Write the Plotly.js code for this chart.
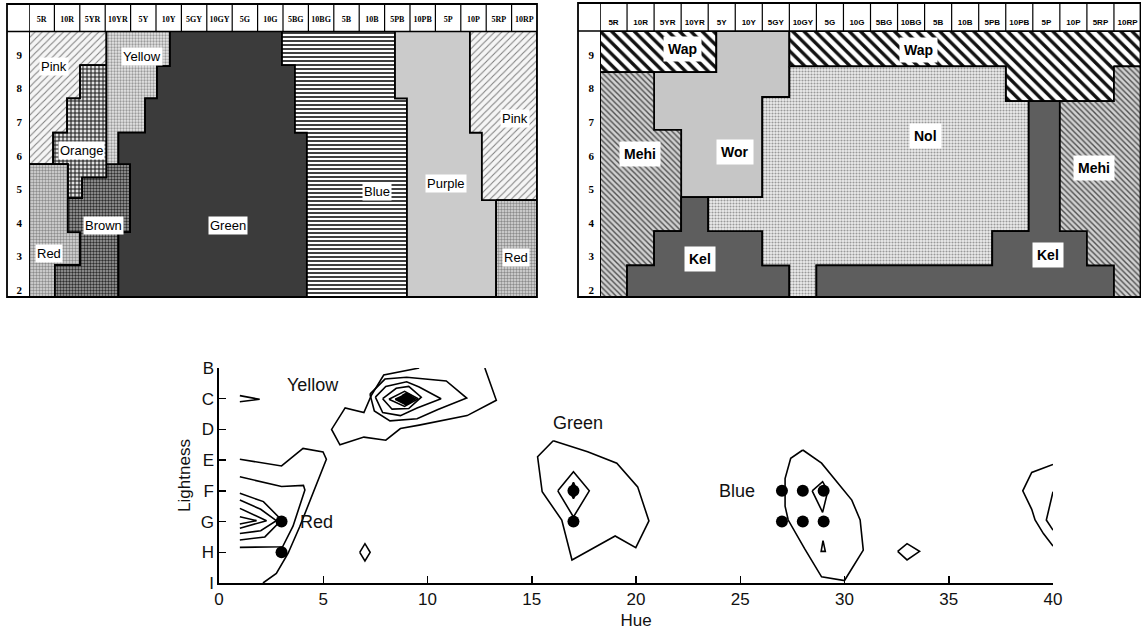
<!DOCTYPE html>
<html><head><meta charset="utf-8">
<script src="https://cdn.plot.ly/plotly-3.0.1.min.js"></script>
<style>html,body{margin:0;padding:0;background:#fff}#chart{width:1141px;height:630px}</style>
</head><body><div id="chart"></div>
<script>
// ================= DATA =================
const hueColumns = ['5R','10R','5YR','10YR','5Y','10Y','5GY','10GY','5G','10G','5BG','10BG','5B','10B','5PB','10PB','5P','10P','5RP','10RP'];
const valueRows = [2,3,4,5,6,7,8,9];
const TOP = 9.714, BOT = 1.798;   // value range shown in the two maps

// Panel A: English colour-term regions  [hue column, Munsell value]
const pinkLeft  = [[0,TOP],[3.05,TOP],[3.05,8.7],[2.01,8.7],[2.01,7.71],[1.5,7.71],[1.5,6.69],[0.95,6.69],[0.95,5.75],[0,5.75]];
const orange    = [[2.01,8.7],[3.05,8.7],[3.05,5.35],[2.09,5.35],[2.09,4.74],[1.53,4.74],[1.53,5.75],[0.95,5.75],[0.95,6.69],[1.5,6.69],[1.5,7.71],[2.01,7.71]];
const redLeft   = [[0,5.75],[1.53,5.75],[1.53,3.73],[2.01,3.73],[2.01,2.75],[1.02,2.75],[1.02,BOT],[0,BOT]];
const brown     = [[3.05,5.75],[3.98,5.75],[3.98,3.73],[3.52,3.73],[3.52,BOT],[1.02,BOT],[1.02,2.75],[2.01,2.75],[2.01,3.73],[1.53,3.73],[1.53,4.74],[2.09,4.74],[2.09,5.35],[3.05,5.35]];
const yellow    = [[3.05,TOP],[5.55,TOP],[5.55,8.67],[5.04,8.67],[5.04,7.71],[4.57,7.71],[4.57,6.69],[3.52,6.69],[3.52,5.75],[3.05,5.75]];
const green     = [[5.55,TOP],[9.96,TOP],[9.96,8.7],[10.47,8.7],[10.47,6.69],[10.94,6.69],[10.94,BOT],[3.52,BOT],[3.52,3.73],[3.98,3.73],[3.98,5.75],[3.52,5.75],[3.52,6.69],[4.57,6.69],[4.57,7.71],[5.04,7.71],[5.04,8.67],[5.55,8.67]];
const blue      = [[9.96,TOP],[14.41,TOP],[14.41,7.71],[14.88,7.71],[14.88,BOT],[10.94,BOT],[10.94,6.69],[10.47,6.69],[10.47,8.7],[9.96,8.7]];
const purple    = [[14.41,TOP],[17.36,TOP],[17.36,6.69],[17.83,6.69],[17.83,4.68],[18.39,4.68],[18.39,BOT],[14.88,BOT],[14.88,7.71],[14.41,7.71]];
const pinkRight = [[17.36,TOP],[20,TOP],[20,4.68],[17.83,4.68],[17.83,6.69],[17.36,6.69]];
const redRight  = [[18.39,4.68],[20,4.68],[20,BOT],[18.39,BOT]];
const labelsA = [['Pink',1.0,8.67],['Yellow',4.43,8.97],['Orange',2.07,6.17],['Brown',2.93,3.94],['Green',7.82,3.94],
                 ['Red',0.8,3.09],['Blue',13.7,4.95],['Purple',16.42,5.18],['Pink',19.15,7.11],['Red',19.19,2.97]];

// Panel B: Maori colour-term regions
const wapLeft   = [[0,TOP],[4.3,TOP],[4.3,8.49],[0,8.49]];
const wor       = [[4.3,TOP],[7,TOP],[7,7.75],[6,7.75],[6,4.77],[3,4.77],[3,6.77],[2,6.77],[2,8.49],[4.3,8.49]];
const mehiLeft  = [[0,8.49],[2,8.49],[2,6.77],[3,6.77],[3,3.76],[2,3.76],[2,2.74],[1,2.74],[1,BOT],[0,BOT]];
const kelLeft   = [[3,4.77],[4,4.77],[4,3.76],[6,3.76],[6,2.74],[7,2.74],[7,BOT],[1,BOT],[1,2.74],[2,2.74],[2,3.76],[3,3.76]];
const wapRight  = [[7,TOP],[20,TOP],[20,8.66],[19,8.66],[19,7.63],[15,7.63],[15,8.66],[7,8.66]];
const nol       = [[7,8.66],[15,8.66],[15,7.63],[15.85,7.63],[15.85,3.76],[14.5,3.76],[14.5,2.74],[8,2.74],[8,BOT],[7,BOT],[7,2.74],[6,2.74],[6,3.76],[4,3.76],[4,4.77],[6,4.77],[6,7.75],[7,7.75]];
const kelRight  = [[15.85,7.63],[17,7.63],[17,3.76],[18,3.76],[18,2.74],[19,2.74],[19,BOT],[8,BOT],[8,2.74],[14.5,2.74],[14.5,3.76],[15.85,3.76]];
const mehiRight = [[19,8.66],[20,8.66],[20,BOT],[19,BOT],[19,2.74],[18,2.74],[18,3.76],[17,3.76],[17,7.63],[19,7.63]];
const labelsB = [['Wap',3.05,9.17],['Wap',11.79,9.15],['Mehi',1.48,6.05],['Wor',4.99,6.12],['Nol',12.03,6.6],
                 ['Mehi',18.28,5.65],['Kel',3.7,2.92],['Kel',16.57,3.05]];

// Panel C: contour lines  [hue, lightness row index: B=0 ... I=7]
const lightnessLetters = ['B','C','D','E','F','G','H','I'];
const hueTicks = [0,5,10,15,20,25,30,35,40];
const contourRedA = [[1,2.97],[3,3.19],[4.03,2.62],[4.99,2.73],[5.15,2.97],[4.51,4.08],[3.87,5.17],[3.31,6.04],[2.75,6.69],[2.11,7.0]];
const contourRedB = [[1,3.54],[3,3.86],[4.05,3.82],[4.12,3.97],[3.55,5.15],[3.05,5.82],[1,5.84]];
const contourRedC = [[1,4.08],[2.13,4.35],[3,4.95],[2.2,5.5],[1,5.6]];
const contourRedD = [[1,4.3],[2.0,4.6],[2.75,4.97],[2.0,5.3],[1,5.39]];
const contourRedE = [[1,4.57],[2.28,4.97],[1,5.22]];
const contourRedF = [[1,4.84],[1.8,4.97],[1,5.08]];
const contourTickC = [[1,0.9],[1.95,1.02],[1,1.1]];
const contourYellowA = [[9.6,0],[7.9,0.23],[7.3,0.9],[6.95,1.45],[6.05,1.3],[5.4,2.0],[5.8,2.5],[6.95,2.25],[8.0,2.35],[8.7,1.97],[9.6,1.86],[11.9,1.55],[13.3,1.05],[12.75,0]];
const contourYellowB = [[7.24,0.85],[7.96,0.36],[9.0,0.3],[10.9,0.42],[11.88,0.98],[10.5,1.35],[9.5,1.65],[8.2,1.72],[7.45,1.4],[7.24,0.85]];
const contourYellowC = [[7.5,0.95],[8.0,0.6],[9.0,0.45],[9.6,0.62],[10.65,1.0],[9.5,1.3],[8.7,1.55],[7.85,1.45],[7.5,0.95]];
const contourYellowD = [[7.85,1.0],[8.5,0.66],[9.1,0.6],[9.7,0.95],[9.1,1.32],[8.3,1.34],[7.85,1.0]];
const contourYellowE = [[8.15,1.02],[8.9,0.76],[9.55,1.0],[8.9,1.25],[8.15,1.02]];
const coreYellow     = [[8.45,1.02],[9.0,0.84],[9.42,1.0],[8.95,1.19],[8.45,1.02]];
const contourH7      = [[6.75,6],[7,5.72],[7.25,6],[7,6.28],[6.75,6]];
const contourGreenA  = [[16.03,2.37],[15.28,2.89],[15.5,4.03],[16.44,4.95],[16.93,6.25],[19.0,5.47],[19.99,5.85],[20.62,4.98],[20.08,3.87],[19.08,3.1],[17.68,2.73],[16.03,2.37]];
const contourGreenB  = [[16.25,4.0],[17,3.38],[17.76,4.0],[17,4.85],[16.25,4.0]];
const coreGreen      = [[16.82,4.0],[17,3.72],[17.18,4.0],[17,4.25],[16.82,4.0]];
const contourBlueA   = [[28.0,2.67],[27.42,2.94],[27.15,3.6],[27.15,4.5],[27.3,4.95],[28.1,5.9],[28.9,6.8],[30.0,6.92],[30.9,5.93],[30.75,4.95],[30.35,4.3],[28.9,3.1],[28.0,2.67]];
const contourBlueB   = [[28.45,4.0],[28.95,3.7],[29.2,4.0],[28.95,4.7],[28.45,4.0]];
const contourBlueC   = [[28.97,5.62],[28.88,5.97],[29.08,5.97],[28.97,5.62]];
const contourH33     = [[32.55,5.97],[33.0,5.72],[33.6,5.97],[33.0,6.25],[32.55,5.97]];
const contourRightA  = [[40,3.14],[38.98,3.4],[38.55,4.0],[38.98,4.6],[39.14,4.95],[39.54,5.39],[40,5.8]];
const contourRightB  = [[40,4.03],[39.68,4.95],[40,5.28]];
const focalHue = [3,3,9,17,17,27,28,29,27,28,29];
const focalRow = [5,6,1,4,5,4,4,4,5,5,5];
const labelsC = [['Yellow',4.51,0.55,'center'],['Red',3.8,5.0,'left'],['Green',17.2,1.8,'center'],['Blue',24.85,4.0,'center']];

// ================= STYLES / LAYOUT =================
const W = 1141, H = 630;
const PX = p => p / W, PY = p => 1 - p / H;
const SANS = 'Liberation Sans, Arial, Helvetica, sans-serif';
const SERIF = 'Liberation Serif, Times New Roman, serif';

const styles = {
  pink:   {bg:'#f5f5f5', shape:'/', fg:'#7e7e7e', size:5, sol:0.2},
  orange: {bg:'#e2e2e2', shape:'+', fg:'#1a1a1a', size:4, sol:0.45},
  red:    {bg:'#dcdcdc', shape:'.', fg:'#8c8c8c', size:3, sol:0.5},
  brown:  {bg:'#a4a4a4', shape:'.', fg:'#2e2e2e', size:3, sol:0.5},
  yellow: {bg:'#e6e6e6', shape:'.', fg:'#9a9a9a', size:3, sol:0.45},
  green:  {bg:'#3b3b3b'},
  blue:   {bg:'#ffffff', shape:'-', fg:'#1c1c1c', size:4, sol:0.42},
  purple: {bg:'#cbcbcb'},
  wap:    {bg:'#ffffff', shape:'\\', fg:'#111111', size:8, sol:0.42},
  mehi:   {bg:'#d0d0d0', shape:'\\', fg:'#505050', size:4, sol:0.35},
  wor:    {bg:'#c6c6c6'},
  nol:    {bg:'#ededed', shape:'.', fg:'#999999', size:3, sol:0.4},
  kel:    {bg:'#5e5e5e'}
};

function closed(pts){ return pts.concat([pts[0]]); }
function regionTrace(pts, st, xa, ya){
  const c = closed(pts);
  const t = {type:'scatter', mode:'lines', x:c.map(p=>p[0]), y:c.map(p=>p[1]),
    fill:'toself', fillcolor:st.bg, line:{color:'#000', width:1.8},
    xaxis:xa, yaxis:ya, hoverinfo:'skip', showlegend:false};
  if (st.shape) t.fillpattern = {shape:st.shape, fgcolor:st.fg, bgcolor:st.bg, size:st.size, solidity:st.sol};
  return t;
}
function lineTrace(pts, fillBlack){
  const t = {type:'scatter', mode:'lines', x:pts.map(p=>p[0]), y:pts.map(p=>p[1]),
    line:{color:'#000', width:1.6}, xaxis:'x3', yaxis:'y3', hoverinfo:'skip', showlegend:false};
  if (fillBlack){ t.fill='toself'; t.fillcolor='#000'; }
  return t;
}

const traces = [];
[[pinkLeft,'pink'],[orange,'orange'],[redLeft,'red'],[brown,'brown'],[yellow,'yellow'],[green,'green'],
 [blue,'blue'],[purple,'purple'],[pinkRight,'pink'],[redRight,'red']].forEach(([p,s])=>traces.push(regionTrace(p, styles[s], 'x', 'y')));
[[wapLeft,'wap'],[wor,'wor'],[mehiLeft,'mehi'],[kelLeft,'kel'],[wapRight,'wap'],[nol,'nol'],[kelRight,'kel'],[mehiRight,'mehi']]
  .forEach(([p,s])=>traces.push(regionTrace(p, styles[s], 'x2', 'y2')));
[contourRedA,contourRedB,contourRedC,contourRedD,contourRedE,contourRedF,contourTickC,
 contourYellowA,contourYellowB,contourYellowC,contourYellowD,contourYellowE,contourH7,
 contourGreenA,contourGreenB,contourBlueA,contourBlueB,contourBlueC,contourH33,contourRightA,contourRightB]
  .forEach(p=>traces.push(lineTrace(p,false)));
traces.push(lineTrace(coreYellow,true));
traces.push(lineTrace(coreGreen,true));
traces.push({type:'scatter', mode:'markers', x:focalHue, y:focalRow, xaxis:'x3', yaxis:'y3',
  marker:{color:'#000', size:12}, hoverinfo:'skip', showlegend:false, cliponaxis:false});

// frames of the two maps
const shapes = [];
const panels = [
  {xref:'x', left:7, right:537, top:4, head:31.5, bottom:297},
  {xref:'x2', left:578, right:1140.5, top:3, head:31, bottom:297}
];
panels.forEach(p=>{
  const ln = {color:'#000', width:1.6};
  shapes.push({type:'rect', xref:'paper', yref:'paper', x0:PX(p.left), x1:PX(p.right), y0:PY(p.bottom), y1:PY(p.top), line:{color:'#000',width:1.8}});
  shapes.push({type:'line', xref:'paper', yref:'paper', x0:PX(p.left), x1:PX(p.right), y0:PY(p.head), y1:PY(p.head), line:ln});
  shapes.push({type:'line', xref:p.xref, yref:'paper', x0:0, x1:0, y0:PY(p.bottom), y1:PY(p.top), line:ln});
  hueColumns.forEach((h,i)=>{ if(i>0) shapes.push({type:'line', xref:p.xref, yref:'paper', x0:i, x1:i, y0:PY(p.head), y1:PY(p.top), line:{color:'#000',width:1.2}}); });
});

const annotations = [];
labelsA.forEach(([t,x,y])=>annotations.push({xref:'x', yref:'y', x, y, text:t, showarrow:false, bgcolor:'#fff', borderpad:1,
  font:{family:SANS, size:13, color:'#000'}}));
labelsB.forEach(([t,x,y])=>annotations.push({xref:'x2', yref:'y2', x, y, text:t, showarrow:false, bgcolor:'#fff', borderpad:4,
  font:{family:SANS, size:14, color:'#000', weight:'bold'}}));
labelsC.forEach(([t,x,y,a])=>annotations.push({xref:'x3', yref:'y3', x, y, text:t, showarrow:false, xanchor:a,
  font:{family:SANS, size:18, color:'#111'}}));

const mapX = (dom, fam, std) => ({domain:dom, range:[0,20], side:'top', tickvals:hueColumns.map((_,i)=>i+0.5), ticktext:hueColumns,
  ticks:'', showgrid:false, zeroline:false, showline:false, automargin:false, fixedrange:true, ticklabelstandoff:std,
  tickfont:{family:fam, size:8, color:'#000', weight:'bold'}});
const mapY = (dom, std) => ({domain:dom, range:[BOT,TOP], tickvals:valueRows, ticks:'', showgrid:false, zeroline:false, showline:false,
  automargin:false, fixedrange:true, ticklabelstandoff:std, tickfont:{family:SERIF, size:11, color:'#000', weight:'bold'}});

const layout = {
  width:W, height:H, margin:{l:0,r:0,t:0,b:0}, autosize:false, showlegend:false,
  paper_bgcolor:'#fff', plot_bgcolor:'#fff',
  xaxis: Object.assign(mapX([PX(29),PX(537)], SERIF, 6), {anchor:'y'}),
  yaxis: Object.assign(mapY([PY(297),PY(31)], 6), {anchor:'x'}),
  xaxis2: Object.assign(mapX([PX(600),PX(1141)], SANS, 3), {anchor:'y2'}),
  yaxis2: Object.assign(mapY([PY(297),PY(31)], 5), {anchor:'x2'}),
  xaxis3: {anchor:'y3', domain:[PX(219),PX(1053)], range:[0,40], tickvals:hueTicks, ticks:'inside', ticklen:7, tickwidth:1.5,
    tickcolor:'#000', showline:true, linewidth:1.6, linecolor:'#000', showgrid:false, zeroline:false, automargin:false,
    tickfont:{family:SANS, size:17, color:'#111'}, title:{text:'Hue', font:{family:SANS, size:17, color:'#111'}, standoff:8}},
  yaxis3: {anchor:'x3', domain:[PY(583),PY(368)], range:[7,0], tickvals:lightnessLetters.map((_,i)=>i), ticktext:lightnessLetters,
    ticks:'inside', ticklen:7, tickwidth:1.5, tickcolor:'#000', showline:true, linewidth:1.6, linecolor:'#000', showgrid:false,
    zeroline:false, automargin:false, tickfont:{family:SANS, size:17, color:'#111'},
    title:{text:'Lightness', font:{family:SANS, size:17, color:'#111'}, standoff:6}},
  shapes, annotations
};
Plotly.newPlot('chart', traces, layout, {staticPlot:true, displayModeBar:false});
</script></body></html>
